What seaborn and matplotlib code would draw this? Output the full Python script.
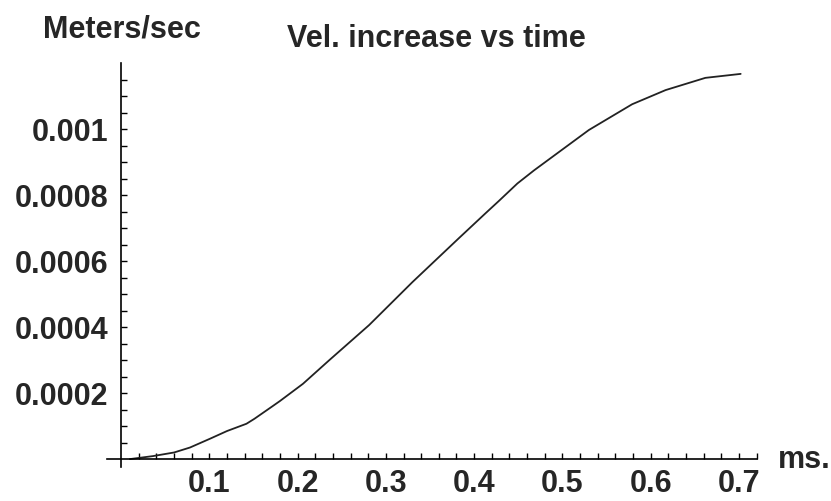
import numpy as np
import pandas as pd
import matplotlib
matplotlib.use("Agg")
import matplotlib.pyplot as plt
from matplotlib.ticker import FixedLocator
import seaborn as sns

# curve (time in ms, velocity increase in m/s)
time_ms = [0.01, 0.036, 0.06, 0.078, 0.101, 0.12, 0.142, 0.151, 0.172, 0.18,
           0.206, 0.236, 0.281, 0.330, 0.383, 0.413, 0.428, 0.449, 0.468,
           0.530, 0.579, 0.617, 0.662, 0.702]
vel_inc = [0.0, 0.000009, 0.00002, 0.000035, 0.000062, 0.000085, 0.000107,
           0.000122, 0.000161, 0.000176, 0.000228, 0.0003, 0.000406, 0.000536,
           0.00067, 0.000745, 0.000782, 0.000835, 0.000875, 0.000997,
           0.001075, 0.001118, 0.001155, 0.001167]

x_ticks = [0.1, 0.2, 0.3, 0.4, 0.5, 0.6, 0.7]
x_labels = ["0.1", "0.2", "0.3", "0.4", "0.5", "0.6", "0.7"]
y_ticks = [0.0002, 0.0004, 0.0006, 0.0008, 0.001]
y_labels = ["0.0002", "0.0004", "0.0006", "0.0008", "0.001"]

df = pd.DataFrame({"t": time_ms, "v": vel_inc})

sns.set_style("white")
plt.rcParams["font.family"] = ["Liberation Sans", "DejaVu Sans"]
plt.rcParams["font.weight"] = "bold"

fig = plt.figure(figsize=(8.31, 5.01), dpi=100)
ax = fig.add_axes([107 / 831, 34 / 501, (757 - 107) / 831, (467 - 63) / 501])

sns.lineplot(data=df, x="t", y="v", ax=ax, color="#222222", linewidth=1.3)

ax.set_xlim(-0.016, 0.7205)
ax.set_ylim(-0.000024, 0.0012)

# Mathematica-like axes crossing at the origin
for side in ["top", "right"]:
    ax.spines[side].set_visible(False)
for side in ["left", "bottom"]:
    ax.spines[side].set_position(("data", 0))
    ax.spines[side].set_color("black")
    ax.spines[side].set_linewidth(1.2)

ax.set_xticks(x_ticks)
ax.set_xticklabels(x_labels)
ax.set_yticks(y_ticks)
ax.set_yticklabels(y_labels)
ax.xaxis.set_minor_locator(FixedLocator([i * 0.02 for i in range(1, 37)]))
ax.yaxis.set_minor_locator(FixedLocator([i * 0.00005 for i in range(1, 24)]))

# seaborn "white" style switches the tick marks off, turn them back on
ax.tick_params(axis="both", which="both", direction="in", color="black",
               width=1.0, bottom=True, left=True)
ax.tick_params(axis="both", which="major", length=4.5, labelsize=22)
ax.tick_params(axis="both", which="minor", length=4)
ax.tick_params(axis="x", which="major", pad=7)
ax.tick_params(axis="y", which="major", pad=9)
ax.set_xlabel("")
ax.set_ylabel("")
ax.grid(False)

fig.text(43 / 831, 1 - 38 / 501, "Meters/sec", fontsize=22, fontweight="bold",
         ha="left", va="baseline")
fig.text(287 / 831, 1 - 47 / 501, "Vel. increase vs time", fontsize=22,
         fontweight="bold", ha="left", va="baseline")
fig.text(778 / 831, 1 - 468 / 501, "ms.", fontsize=22, fontweight="bold",
         ha="left", va="baseline")

fig.savefig("out.png", dpi=100, facecolor="white")
